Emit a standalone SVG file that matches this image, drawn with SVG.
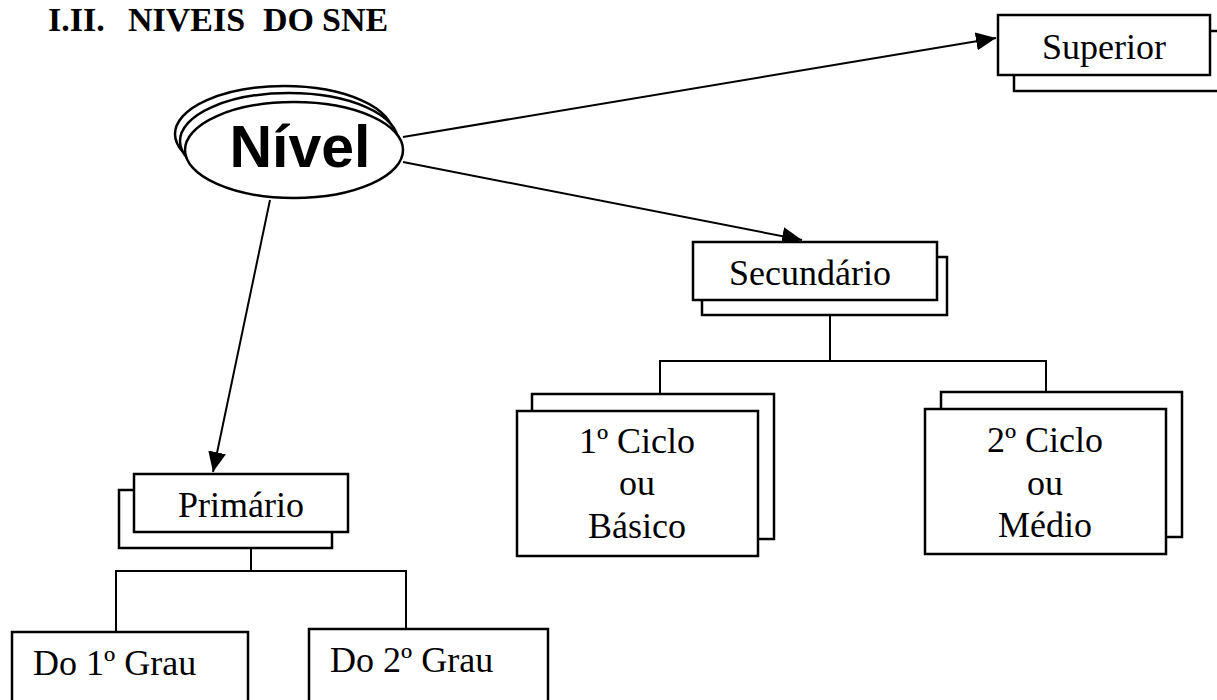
<svg xmlns="http://www.w3.org/2000/svg" width="1217" height="700" viewBox="0 0 1217 700">
  <style>
    .box { fill: #fff; stroke: #000; stroke-width: 2.5; }
    .ell { fill: #fff; stroke: #000; stroke-width: 2.5; }
    .lbl { font-family: "Liberation Serif", "Times New Roman", serif; font-size: 36px; fill: #000; }
    .mid { text-anchor: middle; }
    .title { font-family: "Liberation Serif", "Times New Roman", serif; font-size: 34px; font-weight: bold; fill: #000; }
    .conn { fill: none; stroke: #000; stroke-width: 2; }
  </style>
  <defs>
    <marker id="arrow" markerUnits="userSpaceOnUse" markerWidth="22" markerHeight="20" refX="20" refY="9" orient="auto">
      <path d="M0,0 L20,9 L0,18 z" fill="#000"/>
    </marker>
  </defs>
  <rect width="1217" height="700" fill="#fff"/>

  <g id="title">
    <text class="title" y="31"><tspan x="48">I.II.</tspan><tspan x="128">NIVEIS</tspan><tspan x="263">DO</tspan><tspan x="322">SNE</tspan></text>
  </g>

  <g id="connectors">
    <path class="conn" d="M403,137 L996,38" marker-end="url(#arrow)"/>
    <path class="conn" d="M403,162 L802,240" marker-end="url(#arrow)"/>
    <path class="conn" d="M270,200 L213,472" marker-end="url(#arrow)"/>
    <path class="conn" d="M830,300 V361 M660,411 V361 H1046 V409"/>
    <path class="conn" d="M251,532 V571 M116,632 V571 H406 V629"/>
  </g>

  <g id="nivel">
    <ellipse class="ell" cx="284" cy="134" rx="109" ry="48"/>
    <ellipse class="ell" cx="289" cy="141" rx="109" ry="48"/>
    <ellipse class="ell" cx="294" cy="150" rx="109" ry="48"/>
    <text x="300" y="167" text-anchor="middle" font-family="Liberation Sans, Arial, sans-serif" font-weight="bold" font-size="59">Nível</text>
  </g>

  <g id="superior">
    <rect class="box" x="1014" y="31" width="212" height="60"/>
    <rect class="box" x="998" y="15" width="212" height="60"/>
    <text class="lbl mid" x="1104" y="59">Superior</text>
  </g>

  <g id="secundario">
    <rect class="box" x="702" y="257" width="245" height="58"/>
    <rect class="box" x="693" y="242" width="244" height="58"/>
    <text class="lbl mid" x="810" y="285">Secundário</text>
  </g>

  <g id="ciclo1">
    <rect class="box" x="532" y="394" width="242" height="145"/>
    <rect class="box" x="517" y="411" width="241" height="145"/>
    <text class="lbl mid" x="637" y="453">1º Ciclo</text>
    <text class="lbl mid" x="637" y="495">ou</text>
    <text class="lbl mid" x="637" y="538">Básico</text>
  </g>

  <g id="ciclo2">
    <rect class="box" x="941" y="392" width="241" height="145"/>
    <rect class="box" x="925" y="409" width="241" height="145"/>
    <text class="lbl mid" x="1045" y="452">2º Ciclo</text>
    <text class="lbl mid" x="1045" y="495">ou</text>
    <text class="lbl mid" x="1045" y="537">Médio</text>
  </g>

  <g id="primario">
    <rect class="box" x="119" y="490" width="213" height="58"/>
    <rect class="box" x="134" y="474" width="214" height="58"/>
    <text class="lbl mid" x="241" y="517">Primário</text>
  </g>

  <g id="grau1">
    <rect class="box" x="12" y="632" width="236" height="80"/>
    <text class="lbl" x="33" y="675">Do 1º Grau</text>
  </g>

  <g id="grau2">
    <rect class="box" x="309" y="629" width="239" height="80"/>
    <text class="lbl" x="330" y="672">Do 2º Grau</text>
  </g>
</svg>
